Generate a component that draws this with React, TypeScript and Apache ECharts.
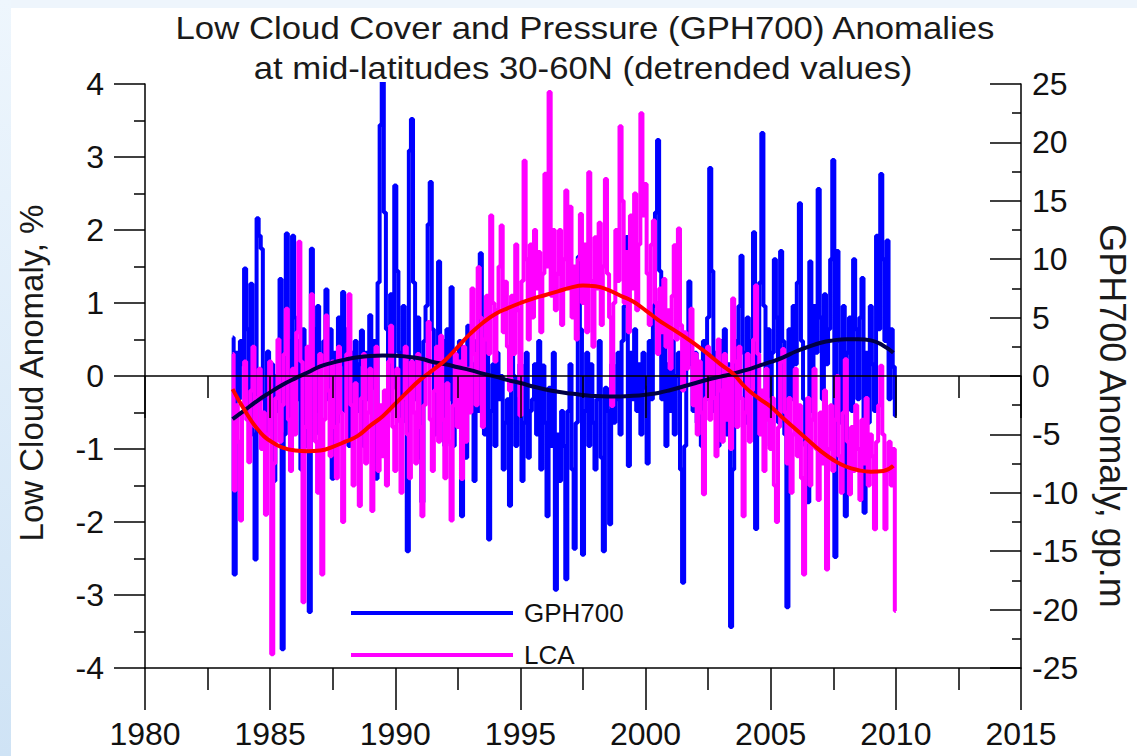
import React, { useEffect, useRef } from "react";
import * as echarts from "echarts";

// Monthly anomalies, starting July 1983 (1983.5), one value per month
const START_YEAR = 1983.5;
const MONTHS_PER_YEAR = 12;

// GPH700 anomaly, gp.m (right axis)
const gph700 = [
  3.3, -17, 2, -2, 3, 1, 9.2, 4, -3, 7.9, -5, -15.7,
  13.5, 12, 10.9, -2, -6, 2.1, -4, 1, -9, 0, -3, 8.3,
  -23.4, -5, 12.2, 3, -4, 12, 5, -2, 3, -8, 4, -6,
  2, -20.2, 10.9, 4, -3, 6, -5, 1, 3, 7.4, -2, 4,
  -8.8, 2, -4, 5, 1, 7.2, -3, 4, -6, 2, -5, 3,
  -3, 1, 3.9, -6, 2, -2, 5.2, -1, 3, -8.8, 8, 21.5,
  25.2, 14, 4, -3, 7, -1, 16.3, 9, 2, -4, 6, -2,
  -15, 19.3, 22, 8, -2, 5, -7, -10.8, 3, 6, 13, 16.6,
  4, -5, 2, 9.8, -3, 3, -6, 4, -2, 7.6, -6, 1,
  -4, 3, -12, 2, -7, 4.3, -2, 1, -9, 3, -3, 10.5,
  2, -5, 3, -14, -3, 1, -6, 2, -2, 0, -8, -4,
  -2, -11.1, 6.3, 0, -6, -2, 1, -9, -4, 2, -7, -3,
  -2, 1, -5, 3, -8, 0.9, -4, -12, -1, -6, 2, -18.3,
  -5, -9, -3, -6, -17.4, -3, 1, -8, -14.8, -4, 10.2, 4,
  -15.3, -3, 2, -6, 1, -4, -8, -2, 3, -7, -15, -1,
  -3, -12.7, 1, -4, -2, 2, -5, 3, 6, 11.9, -7.7, 2,
  -2, 4, -3, 1, -5, 2, -1, -7.5, 3, -2, 6, 14,
  20.2, 9, -2, 4, -6, 1, -3, 3, -5, 0, 2, -8,
  -17.7, -6, 3, 8.1, 1, -3, 2, -4, 1, -6, 3, -2,
  5, 17.8, 9, -3, 2, -6, 3, -2, 4, -5, 1, -21.5,
  -8, 3, -2, 6, 10.3, 2, -4, 5, -1, 3, 12.3, -13.1,
  2, 8, 20.8, 6, -3, 4, -6, 2, 10, 5, -4, 10.7,
  3, -5, -19.8, 4, -2, 6, 1, 8, 14.8, 3, -2, -6,
  -10.8, 9.8, -3, 6, 2, 16, 5, -2, 7, 1, 4, 10,
  18.5, -15.5, 10.7, 3, -4, 6, -12, 2, 5, -3, 10, 4,
  -2, 5, 8.4, -11.7, 2, -4, 6, 1, -3, 12, 4, 17.3,
  10, 3, 11.6, -2, 4, 0.8, -3.4,
];

// Low cloud anomaly, % (left axis)
const lca = [
  0.3, -1.57, -0.4, -0.9, -1.98, -0.5, 0.2, -0.6, -1.18, -0.2, 0.4, -0.7,
  -0.3, 0.1, -1.0, -0.5, -1.9, -0.8, 0.2, -3.81, -1.2, -0.3, 0.5, -0.9,
  -0.4, 0.3, 0.92, -0.6, -1.3, 0.1, -0.8, 0.6, 1.84, 0.2, -3.1, -0.7,
  0.4, -1.0, 1.12, 0.1, -0.9, -1.6, 0.3, -2.72, -0.6, 0.83, -0.2, -1.1,
  0.2, -0.7, -1.4, 0.4, -0.5, -2.0, -0.9, 0.3, 1.12, -0.4, -1.5, -0.1,
  -0.8, -1.78, -0.3, 0.3, -1.2, -0.5, 0.1, -1.85, -0.6, 0.4, -1.3, -0.4,
  -1.1, -0.2, -1.5, 0.2, 0.69, -0.7, -1.3, 0.1, -0.6, -1.6, -0.3, 0.4,
  -0.8, -1.4, 0.2, -0.5, -1.2, 0.3, -0.7, -1.92, -0.4, 0.2, 0.74, -0.6,
  -1.3, -0.2, 0.4, -0.9, 0.55, -0.6, -1.4, -0.1, -0.9, -1.98, -0.4, 0.3,
  -0.7, 0.2, -1.41, 0.4, -0.9, 0.1, -0.5, 1.2, 0.3, -0.4, 1.49, 0.8,
  -0.7, 0.5, 1.1, 0.3, 2.2, 1.0, 0.2, 0.9, 1.5, 2.06, 0.6, 1.29,
  0.4, -0.2, 1.1, 0.3, 1.8, 0.9, -0.54, 1.3, 2.95, 1.6, 0.5, 1.8,
  0.8, 2.0, 1.2, 1.7, 0.6, 1.4, 2.77, 1.5, 3.89, 1.1, 2.0, 0.9,
  1.4, 2.0, 0.7, 1.6, 2.54, 1.2, 2.32, 0.8, 1.5, 0.5, 1.6, 2.22,
  1.0, 1.8, 0.6, 2.79, 1.3, 0.4, 1.9, 1.2, 2.1, 0.7, 1.5, 2.7,
  1.4, 0.8, -0.41, 1.0, 2.0, 1.3, 3.42, 2.4, 1.0, 1.7, 0.6, 2.2,
  1.2, 2.5, 0.9, 1.8, 3.6, 2.2, 2.63, 1.4, 0.7, 1.8, 2.13, 1.0,
  0.3, 1.2, 0.6, 1.33, 0.4, 0.9, 0.1, 1.1, 1.79, 0.5, 2.02, 0.7,
  -0.2, 0.6, 0.1, 0.5, 0.92, -0.4, 0.3, -0.8, 0.2, -0.5, -1.62, -0.3,
  0.4, -0.6, 0.2, -0.3, -1.1, 0.5, -0.2, -0.9, 0.3, -0.6, 0.1, -1.0,
  1.06, 0.2, -0.7, 0.4, -0.3, -1.92, -0.5, 0.3, -0.9, -0.2, 0.5, 1.24,
  0.3, -0.8, -0.2, -1.3, 0.1, -0.6, -1.0, -0.3, -1.5, -2.0, -0.7, 0.2,
  0.37, -0.5, -1.2, -0.3, -1.6, -0.8, 0.1, -1.1, -0.4, -1.4, -2.72, -0.9,
  -0.3, -1.5, -0.6, 0.1, -1.0, -1.7, -0.5, -1.2, -0.2, -2.65, -1.0, -0.4,
  -1.3, -0.6, 0.0, -1.1, -1.6, -0.5, 0.23, -0.9, -1.62, -0.7, -1.3, -0.4,
  -1.0, -1.7, -0.6, -1.2, -0.3, -1.5, -0.8, -1.1, -2.1, -0.9, -0.4, 0.14,
  -0.8, -2.1, -1.3, -0.9, -1.5, -1.0, -3.22,
];

// Smooth fitted curves
const fitYears = [
  1983.5, 1984, 1984.5, 1985, 1985.5, 1986, 1986.5, 1987, 1987.5, 1988, 1988.5,
  1989, 1989.5, 1990, 1990.5, 1991, 1991.5, 1992, 1992.5, 1993, 1993.5, 1994,
  1994.5, 1995, 1995.5, 1996, 1996.5, 1997, 1997.5, 1998, 1998.5, 1999, 1999.5,
  2000, 2000.5, 2001, 2001.5, 2002, 2002.5, 2003, 2003.5, 2004, 2004.5, 2005,
  2005.5, 2006, 2006.5, 2007, 2007.5, 2008, 2008.5, 2009, 2009.5, 2009.9,
];
const lcaFit = [
  -0.18, -0.48, -0.73, -0.89, -0.98, -1.02, -1.03, -1.02, -0.97, -0.9, -0.82,
  -0.68, -0.55, -0.38, -0.21, -0.05, 0.08, 0.22, 0.4, 0.58, 0.73, 0.85,
  0.93, 1.0, 1.06, 1.11, 1.16, 1.21, 1.24, 1.23, 1.18, 1.1, 1.02,
  0.9, 0.77, 0.66, 0.55, 0.43, 0.3, 0.16, 0.03, -0.16, -0.3, -0.42,
  -0.58, -0.73, -0.88, -1.03, -1.15, -1.24, -1.29, -1.31, -1.3, -1.23,
];
const gphFit = [
  -3.7, -2.9, -2.1, -1.4, -0.75, -0.2, 0.3, 0.82, 1.15, 1.4, 1.6,
  1.72, 1.76, 1.74, 1.65, 1.5, 1.2, 1.0, 0.75, 0.5, 0.2, -0.05,
  -0.35, -0.6, -0.9, -1.15, -1.35, -1.5, -1.62, -1.72, -1.75, -1.75, -1.7,
  -1.6, -1.45, -1.2, -0.9, -0.6, -0.3, -0.05, 0.2, 0.5, 0.85, 1.2,
  1.6, 2.1, 2.5, 2.85, 3.05, 3.15, 3.15, 3.05, 2.6, 2.0,
];

const titleLines = [
  "Low Cloud Cover and Pressure (GPH700) Anomalies",
  "at mid-latitudes 30-60N (detrended values)",
];
const leftAxisName = "Low Cloud Anomaly, %";
const rightAxisName = "GPH700 Anomaly, gp.m";

const FONT = "'Liberation Sans', Arial, Helvetica, sans-serif";

export default function App() {
  const ref = useRef<HTMLDivElement>(null);

  useEffect(() => {
    document.body.style.margin = "0";
    const chart = echarts.init(ref.current!, null, { renderer: "svg" });
    const monthly = (arr: number[]) =>
      arr.map((v, i) => [START_YEAR + i / MONTHS_PER_YEAR, v]);
    const fit = (arr: number[]) => arr.map((v, i) => [fitYears[i], v]);

    const line = { color: "#000", width: 1.5 };
    const xAxisBase = {
      type: "value",
      min: 1980,
      max: 2015,
      interval: 5,
      splitLine: { show: false },
      axisTick: { show: true, length: 42, lineStyle: line },
      minorTick: { show: true, splitNumber: 2, length: 22, lineStyle: line },
    };
    const textStyle = (size: number) => ({
      font: `${size}px ${FONT}`,
      fill: "#1a1a1a",
      align: "center",
      verticalAlign: "middle",
      textAlign: "center",
      textVerticalAlign: "middle",
    });

    chart.setOption({
      animation: false,
      backgroundColor: "#ffffff",
      grid: { left: 145, right: 116, top: 84, bottom: 88, containLabel: false },
      xAxis: [
        {
          ...xAxisBase,
          position: "bottom",
          axisLine: { show: true, onZero: false, lineStyle: line },
          axisLabel: {
            fontSize: 32,
            color: "#111",
            fontFamily: FONT,
            margin: 50,
            formatter: (v: number) => String(v),
          },
        },
        {
          ...xAxisBase,
          position: "bottom",
          z: 10,
          axisLine: { show: true, onZero: true, onZeroAxisIndex: 0, lineStyle: line },
          axisLabel: { show: false },
        },
      ],
      yAxis: [
        {
          type: "value",
          position: "left",
          min: -4,
          max: 4,
          interval: 1,
          splitLine: { show: false },
          axisLine: { show: true, lineStyle: line },
          axisTick: { show: true, inside: false, length: 31, lineStyle: line },
          minorTick: { show: true, splitNumber: 2, length: 11, lineStyle: line },
          axisLabel: { fontSize: 32, color: "#111", fontFamily: FONT, margin: 41 },
        },
        {
          type: "value",
          position: "right",
          min: -25,
          max: 25,
          interval: 5,
          splitLine: { show: false },
          axisLine: { show: true, lineStyle: line },
          axisTick: { show: true, inside: true, length: 31, lineStyle: line },
          minorTick: { show: true, splitNumber: 2, length: 9, lineStyle: line },
          axisLabel: { fontSize: 32, color: "#111", fontFamily: FONT, margin: 11 },
        },
      ],
      legend: {
        data: ["GPH700", "LCA"],
        orient: "vertical",
        left: 346,
        top: 595,
        itemWidth: 162,
        itemHeight: 4,
        itemGap: 16,
        icon: "rect",
        textStyle: {
          fontSize: 26,
          lineHeight: 25,
          color: "#111",
          fontFamily: FONT,
          padding: [0, 0, 0, 6],
        },
      },
      series: [
        {
          name: "GPH700",
          type: "line",
          step: "middle",
          xAxisIndex: 0,
          yAxisIndex: 1,
          data: monthly(gph700),
          symbol: "none",
          color: "#0000ff",
          lineStyle: { color: "#0000ff", width: 4 },
          z: 2,
        },
        {
          name: "LCA",
          type: "line",
          step: "middle",
          xAxisIndex: 0,
          yAxisIndex: 0,
          data: monthly(lca),
          symbol: "none",
          color: "#ff00ff",
          lineStyle: { color: "#ff00ff", width: 4 },
          z: 3,
        },
        {
          name: "GPH700 fit",
          type: "line",
          xAxisIndex: 0,
          yAxisIndex: 1,
          data: fit(gphFit),
          symbol: "none",
          smooth: true,
          color: "#000046",
          lineStyle: { color: "#000046", width: 4 },
          z: 4,
        },
        {
          name: "LCA fit",
          type: "line",
          xAxisIndex: 0,
          yAxisIndex: 0,
          data: fit(lcaFit),
          symbol: "none",
          smooth: true,
          color: "#ff0000",
          lineStyle: { color: "#ff0000", width: 4 },
          z: 5,
        },
      ],
      graphic: [
        {
          type: "rect",
          z: -10,
          shape: { x: 0, y: 0, width: 1137, height: 8 },
          style: { fill: "#eef5fc" },
        },
        {
          type: "rect",
          z: -10,
          shape: { x: 0, y: 0, width: 11, height: 756 },
          style: {
            fill: new echarts.graphic.LinearGradient(0, 0, 0, 1, [
              { offset: 0, color: "#eef6fd" },
              { offset: 1, color: "#cfe3f5" },
            ]),
          },
        },
        {
          type: "text",
          x: 585,
          y: 28,
          scaleX: 1.14,
          style: { text: titleLines[0], ...textStyle(30.5) },
        },
        {
          type: "text",
          x: 583,
          y: 68,
          scaleX: 1.14,
          style: { text: titleLines[1], ...textStyle(30.5) },
        },
        {
          type: "text",
          x: 31,
          y: 373,
          rotation: Math.PI / 2,
          style: { text: leftAxisName, ...textStyle(33) },
        },
        {
          type: "text",
          x: 1112,
          y: 416,
          rotation: -Math.PI / 2,
          style: { text: rightAxisName, ...textStyle(36) },
        },
      ],
    });
    return () => chart.dispose();
  }, []);

  return <div ref={ref} style={{ width: 1137, height: 756 }} />;
}
